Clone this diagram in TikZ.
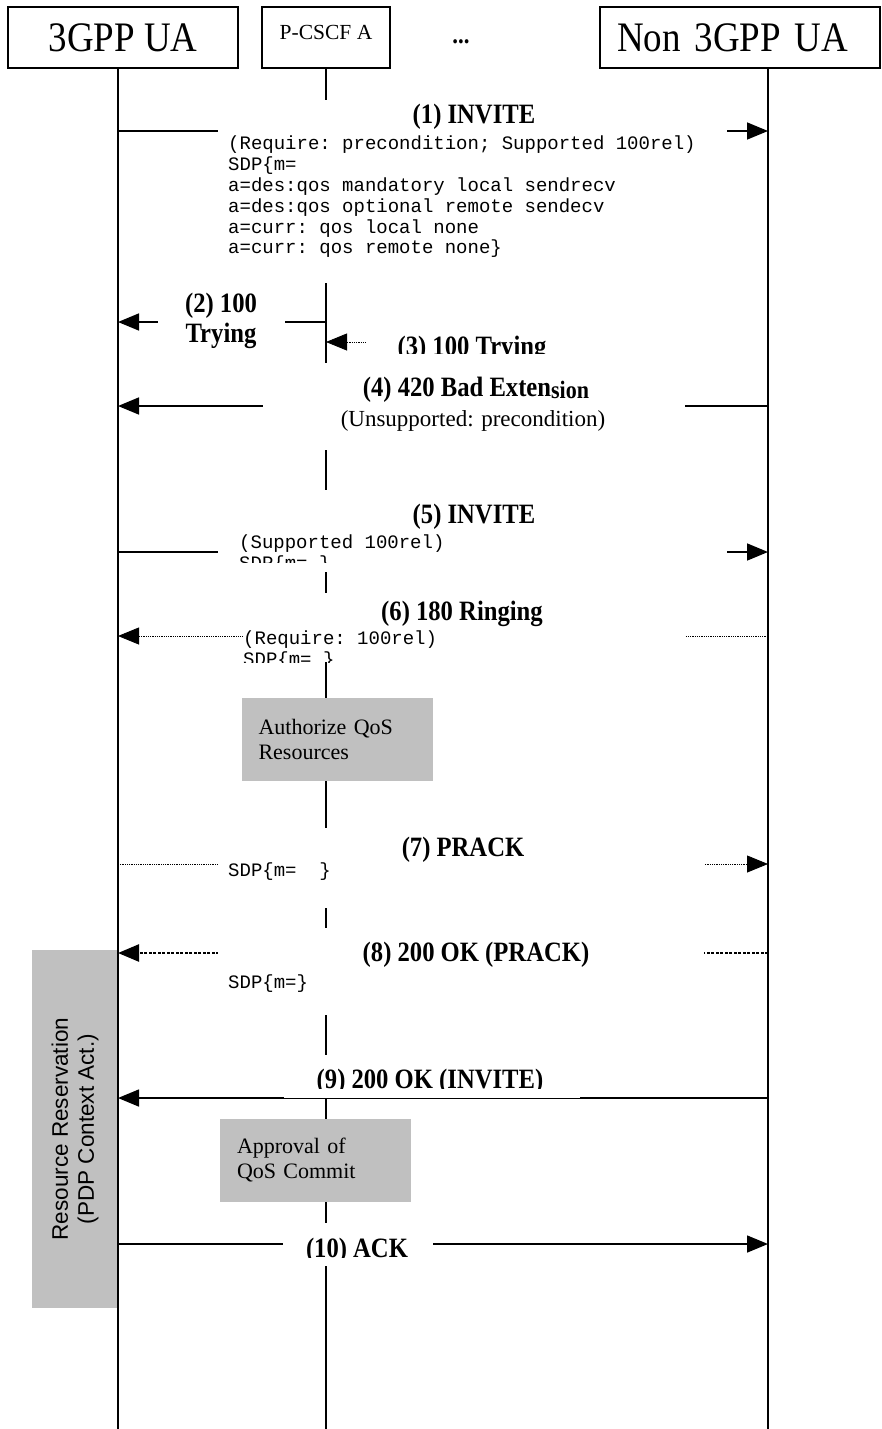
\documentclass[tikz,border=0pt]{standalone}
\usepackage{fontspec}
\setmainfont{Liberation Serif}
\setsansfont{Liberation Sans}
\setmonofont{Liberation Mono}
\newfontfamily\titlefamily{Liberation Serif}[FakeStretch=0.88]
\usetikzlibrary{arrows.meta}
\definecolor{boxgray}{HTML}{C0C0C0}

\tikzset{
  entity/.style={draw, line width=1.3pt, minimum height=61pt, inner sep=0pt, font=\titlefamily\fontsize{42}{44}\selectfont},
  life/.style={line width=1.5pt},
  msg/.style={line width=1.6pt, -{Triangle[length=21pt, width=17pt]}},
  dotmsg/.style={msg, line width=0.8pt, densely dotted},
  dashmsg/.style={msg, line width=2.4pt, dash pattern=on 3pt off 1.5pt},
  gap/.style={fill=white},
  title/.style={font=\titlefamily\bfseries\fontsize{28}{30}\selectfont, inner sep=0pt, align=center},
  sdp/.style={font=\ttfamily\fontsize{19}{20.8}\selectfont, inner sep=0pt, align=left, anchor=north west},
  qos/.style={fill=boxgray, minimum height=83pt, inner xsep=17pt, text width=157pt, align=left, font=\fontsize{22}{25}\selectfont}
}

\begin{document}
\begin{tikzpicture}[x=1pt, y=-1pt]
\useasboundingbox (0,0) rectangle (882,1429);

% participants
\node[entity, minimum width=230pt] (ua) at (123,37.5) {3GPP UA};
\node[entity, minimum width=128pt, text depth=11pt, font=\fontsize{21.5}{24}\selectfont] (pcscf) at (326,37.5) {P-CSCF A};
\node[font=\titlefamily\bfseries\fontsize{26}{26}\selectfont, inner sep=0pt] (dots) at (461,42) {...};
\node[entity, text width=246pt, inner xsep=17pt, align=left] (nua) at (740,37.5) {Non 3GPP UA};

% resource reservation bar
\node[fill=boxgray, rotate=90, minimum width=358pt, minimum height=86pt, inner sep=0pt, align=center, font=\sffamily\fontsize{22.5}{26}\selectfont] (rr) at (75,1129) {Resource Reservation\\(PDP Context Act.)};

% lifelines
\coordinate (l1) at (118,1429);
\coordinate (l2) at (326,1429);
\coordinate (l3) at (768,1429);
\draw[life] (ua.south -| l1) -- (l1);
\draw[life] (pcscf.south) -- (l2);
\draw[life] (nua.south -| l3) -- (l3);

% message rows
\coordinate (r1) at (0,131);
\coordinate (r2) at (0,322);
\coordinate (r3) at (0,342);
\coordinate (r4) at (0,406);
\coordinate (r5) at (0,552);
\coordinate (r6) at (0,636);
\coordinate (r7) at (0,864);
\coordinate (r8) at (0,953);
\coordinate (r9) at (0,1098);
\coordinate (r10) at (0,1244);

\draw[msg] (l1 |- r1) -- (l3 |- r1);
\draw[msg] (l2 |- r2) -- (l1 |- r2);
\draw[dotmsg] (dots |- r3) -- (l2 |- r3);
\draw[msg] (l3 |- r4) -- (l1 |- r4);
\draw[msg] (l1 |- r5) -- (l3 |- r5);
\draw[dotmsg] (l3 |- r6) -- (l1 |- r6);
\draw[dotmsg] (l1 |- r7) -- (l3 |- r7);
\draw[dashmsg] (l3 |- r8) -- (l1 |- r8);
\draw[msg] (l3 |- r9) -- (l1 |- r9);
\draw[msg] (l1 |- r10) -- (l3 |- r10);

% (1)
\fill[gap] (218,100) rectangle (727,283);
\node[title] (t1) at (474,117) {(1) INVITE};
\node[sdp] (s1) at (228,136) {(Require: precondition; Supported 100rel)\\SDP\{m=\\a=des:qos mandatory local sendrecv\\a=des:qos optional remote sendecv\\a=curr: qos local none\\a=curr: qos remote none\}};

% (2)
\fill[gap] (158,290) rectangle (285,352);
\node[title] (t2) at (221,321) {(2) 100\\Trying};

% (3)
\begin{scope}
\fill[gap] (367,330) rectangle (580,353);
\clip (367,330) rectangle (580,353);
\node[title] (t3) at (472,349) {(3) 100 Trying};
\end{scope}

% (4)
\fill[gap] (263,363) rectangle (685,450);
\node[title] (t4) at (476,390) {(4) 420 Bad Exten\raisebox{-2pt}{\fontsize{25}{25}\selectfont sion}};
\node[font=\fontsize{23}{25}\selectfont, inner sep=0pt] (u4) at (473,421) {(Unsupported: precondition)};

% (5)
\begin{scope}
\fill[gap] (218,490) rectangle (727,572);
\node[title] (t5) at (474,517) {(5) INVITE};
\clip (218,490) rectangle (727,562);
\node[sdp] (s5) at (239,535) {(Supported 100rel)\\SDP\{m= \}};
\end{scope}

% (6)
\begin{scope}
\fill[gap] (243,593) rectangle (685,662);
\node[title] (t6) at (462,614) {(6) 180 Ringing};
\clip (243,593) rectangle (685,662);
\node[sdp] (s6) at (243,631) {(Require: 100rel)\\SDP\{m= \}};
\end{scope}

\node[qos] (auth) at (337,739.5) {Authorize QoS\\Resources};

% (7)
\fill[gap] (218,828) rectangle (705,908);
\node[title] (t7) at (463,850) {(7) PRACK};
\node[sdp] (s7) at (228,863) {SDP\{m=\ \ \}};

% (8)
\fill[gap] (218,928) rectangle (704,1015);
\node[title] (t8) at (476,955) {(8) 200 OK (PRACK)};
\node[sdp] (s8) at (228,975) {SDP\{m=\}};

% (9)
\begin{scope}
\fill[gap] (284,1055) rectangle (580,1097.6);
\clip (284,1055) rectangle (580,1088.5);
\node[title] (t9) at (430,1082) {(9) 200 OK (INVITE)};
\end{scope}

\node[qos] (appr) at (315.5,1160.5) {Approval of\\QoS Commit};

% (10)
\begin{scope}
\fill[gap] (283,1223) rectangle (433,1266);
\clip (283,1223) rectangle (433,1257);
\node[title] (t10) at (357,1251) {(10) ACK};
\end{scope}

\end{tikzpicture}
\end{document}
